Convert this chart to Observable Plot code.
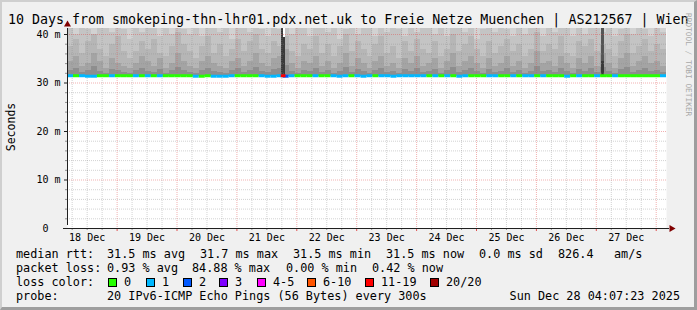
<!DOCTYPE html>
<html><head><meta charset="utf-8">
<script src="https://cdn.jsdelivr.net/npm/d3@7"></script>
<script src="https://cdn.jsdelivr.net/npm/@observablehq/plot@0.6"></script>
<style>
body{margin:0;background:#fff;}
#wrap{position:relative;width:697px;height:310px;background:#f0f0f0;overflow:hidden;font-family:"DejaVu Sans Mono",monospace;}
#wrap svg{position:absolute;left:0;top:0;}
#border{position:absolute;left:0;top:0;width:697px;height:310px;box-sizing:border-box;border-top:2px solid #cfcfcf;border-left:2px solid #cfcfcf;border-right:3px solid #9e9e9e;border-bottom:3px solid #9e9e9e;pointer-events:none;}
</style></head><body><div id="wrap"></div>
<script>
// ---------- data ----------
const titleText = "10 Days from smokeping-thn-lhr01.pdx.net.uk to Freie Netze Muenchen | AS212567 | Wien";
const yAxisTitle = "Seconds";
const startTime = "2025-12-18T04:07:23Z";
const endTime = "2025-12-28T04:07:23Z";

const yMajorTicks = [0, 10, 20, 30, 40];
const yTickLabels = ["0\u00a0\u00a0", "10 m", "20 m", "30 m", "40 m"];
const xTickDays = ["2025-12-18","2025-12-19","2025-12-20","2025-12-21","2025-12-22","2025-12-23","2025-12-24","2025-12-25","2025-12-26","2025-12-27"];
const xTickLabels = ["18 Dec","19 Dec","20 Dec","21 Dec","22 Dec","23 Dec","24 Dec","25 Dec","26 Dec","27 Dec"];

// median RTT (ms) per 2.4 h bin
const medianRtt = [
31.5,31.5,31.5,31.4,31.4,31.5,31.5,31.5,31.5,31.5,
31.5,31.5,31.5,31.5,31.5,31.5,31.5,31.5,31.5,31.5,
31.5,31.4,31.4,31.5,31.4,31.4,31.4,31.5,31.5,31.5,
31.5,31.5,31.5,31.4,31.4,31.5,31.4,31.5,31.5,31.5,
31.5,31.5,31.5,31.5,31.5,31.4,31.5,31.5,31.5,31.4,
31.5,31.5,31.5,31.5,31.4,31.5,31.5,31.5,31.5,31.5,
31.5,31.5,31.5,31.5,31.5,31.4,31.5,31.5,31.5,31.5,
31.5,31.5,31.5,31.5,31.5,31.5,31.5,31.5,31.5,31.5,
31.5,31.5,31.5,31.4,31.5,31.5,31.5,31.5,31.5,31.5,
31.5,31.5,31.5,31.5,31.5,31.5,31.5,31.5,31.5,31.5];

// lost pings (of 20) per bin
const lossCount = [
1,0,1,1,1,0,0,1,0,0,
0,1,0,1,0,1,0,0,0,0,
0,1,0,0,1,1,1,1,0,0,
0,0,1,1,1,1,2,1,0,0,
0,1,0,0,1,1,1,0,1,1,
1,0,1,1,1,1,1,1,1,1,
0,1,0,1,0,1,1,0,0,0,
1,1,0,0,1,0,1,1,0,1,
0,0,0,1,0,1,0,0,1,0,
0,1,0,0,0,0,0,0,0,1];

// smoke: upper edges (ms) of the nested ping bands
const smokeTop = [
42.0,40.0,43.0,41.0,39.5,42.0,44.0,40.5,42.0,41.0,
39.0,42.5,40.5,43.0,41.5,39.5,42.0,40.0,43.5,41.0,
40.0,42.5,39.5,41.5,43.0,40.5,42.0,39.0,41.5,43.0,
40.5,42.0,41.0,39.5,42.5,41.0,43.0,40.0,41.5,42.0,
39.5,41.5,43.0,40.5,42.0,39.0,41.0,43.5,40.0,42.0,
41.5,39.5,42.5,40.5,43.0,41.0,39.5,42.0,40.5,41.5,
43.0,40.0,42.0,39.5,41.5,43.5,40.5,42.0,39.0,41.0,
42.5,40.5,43.0,41.0,39.5,42.0,40.0,43.0,41.5,39.5,
42.0,40.5,41.5,43.0,39.5,42.0,40.0,41.5,43.5,40.5,
42.0,39.5,41.0,43.0,40.0,42.5,41.0,39.5,42.0,40.5];
const smokeHigh = [
37.5,39.0,36.0,38.5,40.0,37.0,35.5,38.0,39.5,36.5,
35.0,36.5,38.5,37.0,39.0,36.0,35.5,37.5,40.5,38.0,
36.5,35.0,37.5,39.5,36.0,38.0,35.5,37.0,39.0,36.5,
38.5,40.0,37.0,36.0,38.5,37.5,39.5,36.5,35.5,38.0,
37.0,39.5,36.0,38.0,35.5,37.5,40.0,36.5,38.5,37.0,
35.5,38.0,39.5,36.0,37.5,35.0,38.5,36.5,39.0,37.0,
36.0,38.5,35.5,37.0,40.0,36.5,38.0,39.5,37.0,35.5,
38.5,36.0,37.5,39.0,36.5,38.0,35.5,37.0,40.5,36.5,
38.0,37.0,39.5,36.0,35.5,38.5,37.5,39.0,36.5,38.0,
37.0,35.5,38.5,40.0,36.0,37.5,39.0,36.5,38.0,37.0];
const smokeMid = [
34.5,35.5,33.5,34.0,36.0,34.5,33.0,35.0,34.0,33.5,
33.0,34.0,35.5,34.5,33.5,35.0,33.0,34.0,36.0,34.5,
33.5,33.0,34.5,35.5,34.0,33.5,33.0,34.5,35.0,33.5,
34.5,36.0,34.0,33.5,35.0,35.5,37.0,34.0,33.0,34.5,
34.0,35.5,33.5,34.5,33.0,34.0,36.0,33.5,35.0,34.0,
33.0,34.5,35.5,33.5,34.0,33.0,35.0,34.0,35.5,33.5,
34.0,35.0,33.0,34.5,36.0,33.5,34.5,35.5,34.0,33.0,
35.0,33.5,34.0,35.5,33.5,34.5,33.0,34.0,36.5,34.0,
34.5,33.5,35.5,34.0,33.0,35.0,34.0,35.5,33.5,36.0,
34.0,33.0,35.0,36.0,33.5,34.5,35.5,34.0,34.5,33.5];
const smokeLow = [
32.5,33.0,32.2,32.6,33.4,32.4,32.0,32.8,32.5,32.2,
32.0,32.6,33.0,32.4,32.2,32.8,32.0,32.5,33.2,32.6,
32.2,32.0,32.6,33.0,32.4,32.2,32.0,32.6,32.9,32.2,
32.6,33.2,32.4,32.2,32.8,33.0,33.6,32.4,32.0,32.6,
32.4,33.0,32.2,32.6,32.0,32.4,33.2,32.2,32.8,32.4,
32.0,32.6,33.0,32.2,32.4,32.0,32.8,32.4,33.0,32.2,
32.4,32.8,32.0,32.6,33.2,32.2,32.6,33.0,32.4,32.0,
32.8,32.2,32.4,33.0,32.2,32.6,32.0,32.4,33.4,32.4,
32.6,32.2,33.0,32.4,32.0,32.8,32.4,33.0,32.2,33.2,
32.4,32.0,32.8,33.2,32.2,32.6,33.0,32.4,32.6,32.2];
const smokeMinRtt = 31.3;

// short high-loss / dense-smoke episodes
const spikeStart = ["2025-12-21T17:44:00Z","2025-12-21T18:47:00Z","2025-12-27T01:57:00Z"];
const spikeEnd   = ["2025-12-21T18:47:00Z","2025-12-21T19:40:00Z","2025-12-27T03:10:00Z"];
const spikeTopRtt = [45, 39.3, 45];
const spikeLoss = [17, 17, 0];
const lossEventStart = ["2025-12-21T17:44:00Z"];
const lossEventEnd = ["2025-12-21T19:40:00Z"];
const lossEventCount = [17];

// legend
const lossBuckets = [0, 1, 2, 3, 5, 10, 19, 20];
const lossLabels = ["0", "1", "2", "3", "4-5", "6-10", "11-19", "20/20"];
const lossColors = ["#26ff00", "#00b8ff", "#0059ff", "#7e00ff", "#ff00ff", "#ff5500", "#ff0000", "#a10000"];
const rttStats = ["31.5 ms avg", "31.7 ms max", "31.5 ms min", "31.5 ms now", "0.0 ms sd", "826.4", "am/s"];
const lossStats = ["0.93 % avg", "84.88 % max", "0.00 % min", "0.42 % now"];
const probeText = "20 IPv6-ICMP Echo Pings (56 Bytes) every 300s";
const dateText = "Sun Dec 28 04:07:23 2025";
const watermark = "RRDTOOL / TOBI OETIKER";

// ---------- build ----------
const T0 = new Date(startTime), T1 = new Date(endTime);
const binMs = (T1 - T0) / medianRtt.length;
const bins = medianRtt.map((m, i) => ({
  t0: new Date(+T0 + i * binMs), t1: new Date(+T0 + (i + 1) * binMs),
  median: m, loss: lossCount[i], top: smokeTop[i], high: smokeHigh[i], mid: smokeMid[i], low: smokeLow[i]
}));
const lossColor = n => lossColors[lossBuckets.findIndex(b => n <= b)];
const spikes = spikeStart.map((s, i) => ({t0: new Date(s), t1: new Date(spikeEnd[i]), top: spikeTopRtt[i], loss: spikeLoss[i], idx: i}));
const lossEvents = lossEventStart.map((s, i) => ({t0: new Date(s), t1: new Date(lossEventEnd[i]), loss: lossEventCount[i], median: 31.5}));
const yMax = 41.24;
const yMinor = d3.range(2, 41, 2).filter(d => d % 10 !== 0);
const xMajor = d3.utcDay.range(T0, T1).map(d => d3.utcDay.ceil(d)).filter(d => d > T0 && d < T1);
const xMinor = d3.utcHour.every(6).range(T0, T1).filter(d => d.getUTCHours() !== 0);
const xNoons = xTickDays.map(d => new Date(d + "T12:00:00Z"));

const gridMinor = {stroke: "#8f8f8f", strokeOpacity: 0.4, strokeDasharray: "1,1"};
const gridMajor = {stroke: "#e05050", strokeOpacity: 0.45, strokeDasharray: "1,1"};
const crisp = {clip: true, shapeRendering: "crispEdges"};

const chart = Plot.plot({
  width: 697, height: 310,
  marginLeft: 67, marginRight: 31, marginTop: 28, marginBottom: 82,
  x: {type: "utc", domain: [T0, T1], axis: null, label: null},
  y: {domain: [0, yMax], axis: null, label: null},
  color: {type: "identity"},
  style: {background: "transparent", fontFamily: "'DejaVu Sans Mono', monospace", fontSize: "10px", color: "#000", overflow: "visible"},
  marks: [
    Plot.frame({fill: "#ffffff", stroke: "none"}),
    Plot.rect(bins, {x1: "t0", x2: "t1", y1: smokeMinRtt, y2: 45, fill: "#d2d2d2", ...crisp}),
    Plot.rect(bins, {x1: "t0", x2: "t1", y1: smokeMinRtt, y2: "top", fill: "#c4c4c4", ...crisp}),
    Plot.rect(bins, {x1: "t0", x2: "t1", y1: smokeMinRtt, y2: "high", fill: "#b6b6b6", ...crisp}),
    Plot.rect(bins, {x1: "t0", x2: "t1", y1: smokeMinRtt, y2: "mid", fill: "#a4a4a4", ...crisp}),
    Plot.rect(bins, {x1: "t0", x2: "t1", y1: smokeMinRtt, y2: "low", fill: "#8e8e8e", ...crisp}),
    Plot.rect(spikes.filter(d => d.idx === 1), {x1: "t0", x2: "t1", y1: "top", y2: 45, fill: "#ffffff", ...crisp}),
    Plot.rect(spikes, {x1: "t0", x2: "t1", y1: smokeMinRtt, y2: "top", fill: d => d.loss > 10 ? "#3a3a3a" : "#555555", ...crisp}),
    Plot.rect(spikes.filter(d => d.loss <= 10), {x1: "t0", x2: "t1", y1: smokeMinRtt, y2: 34.5, fill: "#3a3a3a", ...crisp}),
    Plot.ruleY(yMinor, gridMinor),
    Plot.ruleX(xMinor, gridMinor),
    Plot.ruleY(yMajorTicks.filter(d => d > 0), gridMajor),
    Plot.ruleX(xMajor, gridMajor),
    Plot.ruleY(bins, {y: "median", x1: "t0", x2: "t1", stroke: d => lossColor(d.loss), strokeWidth: 3}),
    Plot.ruleY(lossEvents, {y: "median", x1: "t0", x2: "t1", stroke: d => lossColor(d.loss), strokeWidth: 3}),
    Plot.axisY(yMinor, {tickSize: 2, stroke: "#8f8f8f", tickFormat: () => "", label: null}),
    Plot.axisY(yMajorTicks, {tickSize: 3, tickPadding: 4, stroke: "#202020", fontSize: 10, tickFormat: d => yTickLabels[yMajorTicks.indexOf(d)], label: null}),
    Plot.axisX(xMinor, {tickSize: 2, stroke: "#8f8f8f", tickFormat: () => "", label: null}),
    Plot.axisX(xMajor, {tickSize: 3, stroke: "#e05050", tickFormat: () => "", label: null}),
    Plot.axisX(xNoons, {tickSize: 0, tickPadding: 5, fontSize: 10, tickFormat: d => xTickLabels[xNoons.findIndex(n => +n === +d)], label: null}),
    Plot.ruleY([0], {stroke: "#202020", insetLeft: -4, insetRight: -3}),
    Plot.ruleX([T0], {y1: 0, y2: yMax, stroke: "#202020", insetTop: -3}),
    Plot.dot([T0], {x: d => d, y: yMax, symbol: "triangle", r: 2.6, fill: "#800000", stroke: "none", dy: -4}),
    Plot.dot([T1], {x: d => d, y: 0, symbol: "triangle", r: 2.6, rotate: 90, fill: "#800000", stroke: "none", dx: 5})
  ]
});
const wrap = document.getElementById("wrap");
wrap.appendChild(chart);

// text overlay
const ov = d3.select(wrap).append("svg").attr("width", 697).attr("height", 310)
  .style("font-family", "'DejaVu Sans Mono', monospace").style("white-space", "pre");
function txt(x, y, s, size, opts = {}) {
  const t = ov.append("text").attr("x", x).attr("y", y).attr("font-size", size).attr("fill", opts.fill || "#000").text(s);
  if (opts.anchor) t.attr("text-anchor", opts.anchor);
  if (opts.transform) t.attr("transform", opts.transform).attr("x", 0).attr("y", 0);
  return t;
}
txt(8, 23.5, titleText, 13.3);
txt(0, 0, yAxisTitle, 11.5, {anchor: "middle", transform: "translate(15,127) rotate(-90)"});
txt(0, 0, watermark, 7.8, {fill: "#a8a8a8", transform: "translate(686,13) rotate(90)"});
const fs = 11.8;
txt(16, 258, "median rtt:", fs);
[107, 200, 293, 386, 479, 558, 614].forEach((x, i) => txt(x, 258, rttStats[i], fs));
txt(16, 272, "packet loss:", fs);
[107, 192, 286, 372].forEach((x, i) => txt(x, 272, lossStats[i], fs));
txt(16, 286, "loss color:", fs);
const sqX = [108, 146, 183, 219, 257, 307, 365, 430];
sqX.forEach((x, i) => {
  ov.append("rect").attr("x", x + 0.5).attr("y", 278.5).attr("width", 8).attr("height", 8)
    .attr("fill", lossColors[i]).attr("stroke", "#000").attr("stroke-width", 1);
  txt(x + 16, 286, lossLabels[i], fs);
});
txt(16, 300, "probe:", fs);
txt(107, 300, probeText, fs);
txt(680, 300, dateText, fs, {anchor: "end"});
const b = document.createElement("div"); b.id = "border"; wrap.appendChild(b);
</script></body></html>
